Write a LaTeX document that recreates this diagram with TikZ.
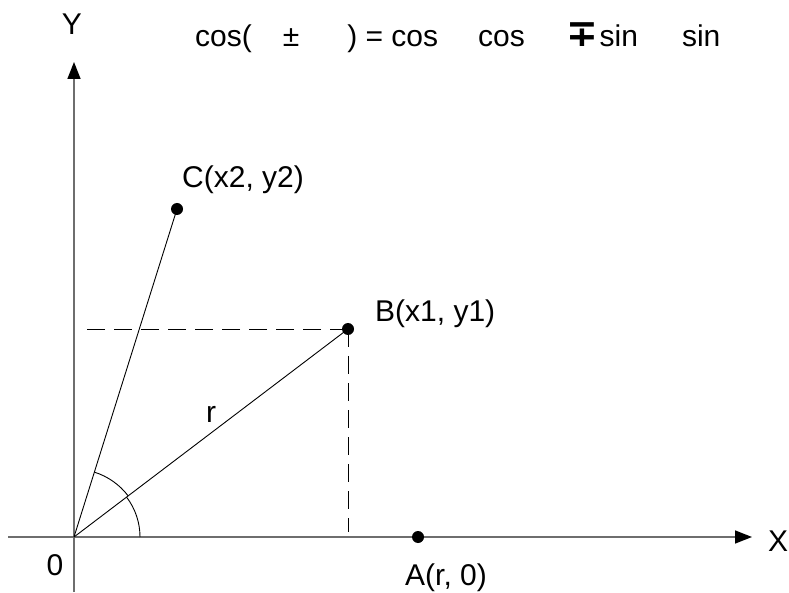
\documentclass[tikz,border=0pt]{standalone}
\usepackage{fontspec}
\setmainfont{Liberation Sans}
\newfontfamily\djvfont{DejaVu Sans}
\usepackage{tikz}
\usetikzlibrary{arrows.meta}
\definecolor{AxisGray}{HTML}{6E6E6E}

\begin{document}
\begin{tikzpicture}[x=1pt, y=1pt,
  every node/.style={font=\fontsize{30}{34}\selectfont, inner sep=0pt},
  axis/.style={AxisGray, line width=1.5pt, -{Triangle[length=17pt, width=13pt, color=black]}},
  ray/.style={black, line width=0.9pt},
  guide/.style={black, line width=0.9pt, dash pattern=on 18pt off 9pt},
  pt/.style={circle, fill=black, minimum size=12pt, inner sep=0pt}]
  \useasboundingbox (0,0) rectangle (789,592);
  % axes
  \coordinate (O) at (74,55);
  \coordinate (xs) at (8,55);
  \coordinate (xe) at (752,55);
  \coordinate (ys) at (74,0);
  \coordinate (ye) at (74,530);
  \draw[axis] (xs) -- (xe);
  \draw[axis] (ys) -- (ye);
  \node[anchor=base] (ylab) at (72,557) {Y};
  \node[anchor=base west] (xlab) at (768,41) {X};
  \node[anchor=base] (olab) at (55,17) {0};
  % points
  \node[pt] (B) at (348,263) {};
  \node[pt] (C) at (177,383) {};
  \node[pt] (A) at (418,55) {};
  \node[anchor=base west] (Blab) at (375,270) {B(x1, y1)};
  \node[anchor=base west] (Clab) at (182,404) {C(x2, y2)};
  \node[anchor=base west] (Alab) at (405,7) {A(r, 0)};
  \coordinate (Bx) at (348,60);
  \coordinate (By) at (85,263);
  % rays and guides
  \draw[ray] (O) -- (B.center);
  \draw[ray] (O) -- (C.center);
  \draw[guide] (B.center) -- (By);
  \draw[guide] (B.center) -- (Bx);
  \node[anchor=base] (rlab) at (211,170) {r};
  % angles
  \draw[ray] ([shift={(0:66pt)}]O) arc[start angle=0, end angle=37.2, radius=66pt];
  \draw[ray] ([shift={(37.2:68pt)}]O) arc[start angle=37.2, end angle=72.6, radius=68pt];
  % formula
  \node[anchor=base west] (formula) at (195,545)
    {cos(\hspace{31pt}±\hspace{48pt}) = cos\hspace{40pt}cos\hspace{42pt}{\djvfont\bfseries\fontsize{38}{40}\selectfont ∓}\hspace{1pt}sin\hspace{44pt}sin};
\end{tikzpicture}
\end{document}
